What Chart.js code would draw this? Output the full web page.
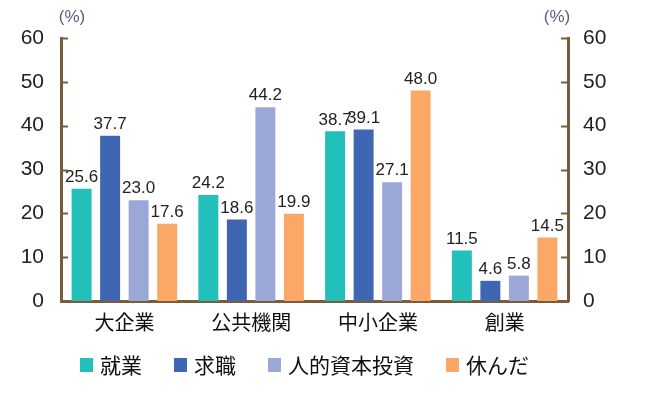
<!DOCTYPE html>
<html>
<head>
<meta charset="utf-8">
<script src="https://cdn.jsdelivr.net/npm/chart.js@4"></script>
<style>
  html, body { margin: 0; padding: 0; background: #fff; }
  #wrap { width: 647px; height: 398px; }
</style>
</head>
<body>
<div id="wrap"><canvas id="chart" width="647" height="398"></canvas></div>
<script>
const categories = ["大企業", "公共機関", "中小企業", "創業"];
const seriesNames = ["就業", "求職", "人的資本投資", "休んだ"];
const employed = [25.6, 24.2, 38.7, 11.5];
const jobSeeking = [37.7, 18.6, 39.1, 4.6];
const humanCapital = [23.0, 44.2, 27.1, 5.8];
const rested = [17.6, 19.9, 48.0, 14.5];
const yTicks = [0, 10, 20, 30, 40, 50, 60];

const colors = ["#22bfbb", "#3e66b2", "#9ba8d7", "#fba867"];
const axisBrown = "#7a5c3a";
const numFont = "'Liberation Sans', Arial, sans-serif";
const jpFont = "'Noto Sans CJK JP', sans-serif";

// value labels above bars, inward ticks, (%) captions and the legend row
const extras = {
    id: "extras",
    afterDatasetsDraw(chart) {
        const ctx = chart.ctx;
        ctx.save();
        ctx.font = "17px " + numFont;
        ctx.fillStyle = "#222";
        ctx.textAlign = "center";
        ctx.textBaseline = "bottom";
        chart.data.datasets.forEach((ds, i) => {
            chart.getDatasetMeta(i).data.forEach((bar, j) => {
                ctx.fillText(ds.data[j].toFixed(1), bar.x, bar.y - 3);
            });
        });

        const y = chart.scales.y;
        const area = chart.chartArea;
        ctx.strokeStyle = axisBrown;
        ctx.lineWidth = 2;
        yTicks.slice(1).forEach(v => {
            const py = Math.round(y.getPixelForValue(v)) + 0.5;
            ctx.beginPath();
            ctx.moveTo(area.left, py);
            ctx.lineTo(area.left + 7, py);
            ctx.moveTo(area.right, py);
            ctx.lineTo(area.right - 7, py);
            ctx.stroke();
        });

        ctx.font = "17px " + numFont;
        ctx.fillStyle = "#5b5f78";
        ctx.textBaseline = "middle";
        ctx.fillText("(%)", area.left + 11, 17);
        ctx.fillText("(%)", area.right - 11, 17);

        // legend
        ctx.font = "21px " + jpFont;
        ctx.textAlign = "left";
        let lx = 80;
        const ly = 365;
        chart.data.datasets.forEach(ds => {
            ctx.fillStyle = ds.backgroundColor;
            ctx.fillRect(lx, ly - 7, 13, 14);
            ctx.fillStyle = "#111";
            ctx.fillText(ds.label, lx + 20, ly);
            lx += 20 + ctx.measureText(ds.label).width + 32;
        });
        ctx.restore();
    }
};

const datasets = [employed, jobSeeking, humanCapital, rested].map((vals, i) => ({
    label: seriesNames[i],
    data: vals,
    backgroundColor: colors[i],
    borderWidth: 0,
    categoryPercentage: 0.9,
    barPercentage: 0.7
}));

new Chart(document.getElementById("chart"), {
    type: "bar",
    data: { labels: categories, datasets: datasets },
    options: {
        responsive: false,
        animation: false,
        layout: { padding: { top: 38, bottom: 57 } },
        plugins: {
            tooltip: { enabled: false },
            legend: { display: false }
        },
        scales: {
            x: {
                grid: { display: false },
                border: { color: axisBrown, width: 3 },
                ticks: { color: "#111", padding: 1, font: { size: 20, family: jpFont } },
                afterFit: s => { s.height = 40; }
            },
            y: {
                position: "left",
                min: 0, max: 60,
                afterBuildTicks: s => { s.ticks = yTicks.map(v => ({ value: v })); },
                grid: { display: false },
                border: { color: axisBrown, width: 3 },
                ticks: { color: "#222", padding: 9, font: { size: 21, family: numFont } },
                afterFit: s => { s.width = 61; }
            },
            y2: {
                position: "right",
                min: 0, max: 60,
                afterBuildTicks: s => { s.ticks = yTicks.map(v => ({ value: v })); },
                grid: { display: false },
                border: { color: axisBrown, width: 3 },
                ticks: { color: "#222", padding: 7, font: { size: 21, family: numFont } },
                afterFit: s => { s.width = 79; }
            }
        }
    },
    plugins: [extras]
});
</script>
</body>
</html>
